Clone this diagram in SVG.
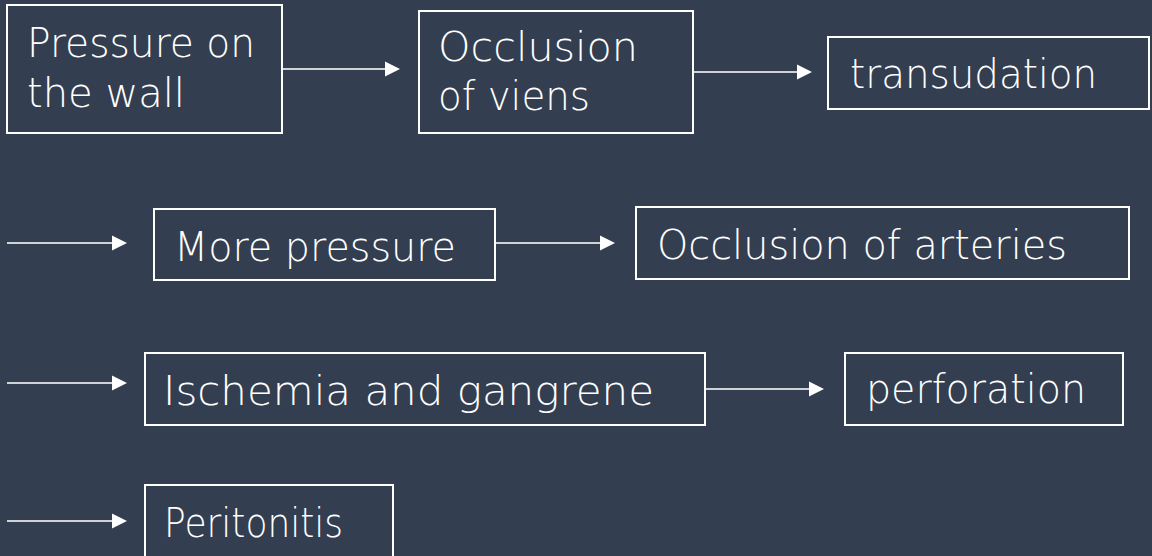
<svg xmlns="http://www.w3.org/2000/svg" width="1152" height="556" viewBox="0 0 1152 556">
<defs>
<style>
.box{fill:none;stroke:#ffffff;stroke-width:2}
.t{fill:#ffffff;font-family:"DejaVu Sans","Liberation Sans",Arial,sans-serif;font-size:40px;font-weight:200}
.c{stroke:#cfd2d6;stroke-width:2;fill:none}
</style>
<marker id="ah" markerUnits="userSpaceOnUse" markerWidth="16" markerHeight="16" viewBox="0 0 16 16" refX="3" refY="8" orient="auto">
<path d="M0,0.5 L15,8 L0,15.5 Z" fill="#ffffff"/>
</marker>
</defs>
<rect width="1152" height="556" fill="#333e50"/>
<g id="connectors">
<line class="c" x1="283" y1="69" x2="388" y2="69" marker-end="url(#ah)"/>
<line class="c" x1="694" y1="72" x2="800" y2="72" marker-end="url(#ah)"/>
<line class="c" x1="7" y1="243" x2="115" y2="243" marker-end="url(#ah)"/>
<line class="c" x1="496" y1="243" x2="603" y2="243" marker-end="url(#ah)"/>
<line class="c" x1="7" y1="383" x2="115" y2="383" marker-end="url(#ah)"/>
<line class="c" x1="706" y1="389" x2="812" y2="389" marker-end="url(#ah)"/>
<line class="c" x1="7" y1="521" x2="115" y2="521" marker-end="url(#ah)"/>
</g>
<g id="n1">
<rect class="box" x="7" y="5" width="275" height="128"/>
<text class="t" x="27" y="57" textLength="228" lengthAdjust="spacingAndGlyphs">Pressure on</text>
<text class="t" x="27" y="107" textLength="158" lengthAdjust="spacingAndGlyphs">the wall</text>
</g>
<g id="n2">
<rect class="box" x="419" y="11" width="274" height="122"/>
<text class="t" x="438" y="61" textLength="200" lengthAdjust="spacingAndGlyphs">Occlusion</text>
<text class="t" x="438" y="110" textLength="152" lengthAdjust="spacingAndGlyphs">of viens</text>
</g>
<g id="n3">
<rect class="box" x="828" y="37" width="321" height="72"/>
<text class="t" x="850" y="88" textLength="247" lengthAdjust="spacingAndGlyphs">transudation</text>
</g>
<g id="n4">
<rect class="box" x="154" y="209" width="341" height="71"/>
<text class="t" x="174" y="261" textLength="282" lengthAdjust="spacingAndGlyphs">More pressure</text>
</g>
<g id="n5">
<rect class="box" x="636" y="207" width="493" height="72"/>
<text class="t" x="657" y="259" textLength="410" lengthAdjust="spacingAndGlyphs">Occlusion of arteries</text>
</g>
<g id="n6">
<rect class="box" x="145" y="353" width="560" height="72"/>
<text class="t" x="163" y="405" textLength="491" lengthAdjust="spacingAndGlyphs">Ischemia and gangrene</text>
</g>
<g id="n7">
<rect class="box" x="845" y="353" width="278" height="72"/>
<text class="t" x="866" y="403" textLength="220" lengthAdjust="spacingAndGlyphs">perforation</text>
</g>
<g id="n8">
<rect class="box" x="145" y="485" width="248" height="80"/>
<text class="t" x="164" y="537" textLength="179" lengthAdjust="spacingAndGlyphs">Peritonitis</text>
</g>
</svg>
